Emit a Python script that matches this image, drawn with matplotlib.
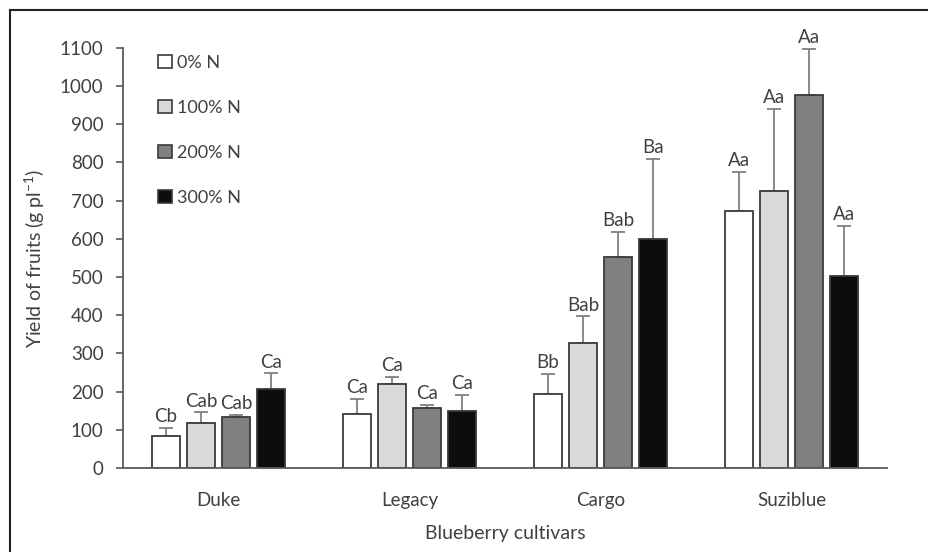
import numpy as np
import matplotlib.pyplot as plt
from matplotlib.patches import Patch
from matplotlib.lines import Line2D

plt.rcParams['font.family'] = ['Lato', 'DejaVu Sans']
plt.rcParams['mathtext.fontset'] = 'custom'
plt.rcParams['mathtext.rm'] = 'Lato'

cultivars = ['Duke', 'Legacy', 'Cargo', 'Suziblue']
doses = ['0% N', '100% N', '200% N', '300% N']

# mean yield (g per plant) and standard error, one list per N dose
yield_0 = [85, 141, 194, 674]
yield_100 = [118, 220, 327, 725]
yield_200 = [133, 158, 552, 977]
yield_300 = [208, 149, 600, 502]

err_0 = [20, 40, 53, 102]
err_100 = [28, 19, 70, 215]
err_200 = [6, 7, 66, 119]
err_300 = [40, 43, 210, 132]

lab_0 = ['Cb', 'Ca', 'Bb', 'Aa']
lab_100 = ['Cab', 'Ca', 'Bab', 'Aa']
lab_200 = ['Cab', 'Ca', 'Bab', 'Aa']
lab_300 = ['Ca', 'Ca', 'Ba', 'Aa']

means = [yield_0, yield_100, yield_200, yield_300]
errs = [err_0, err_100, err_200, err_300]
labels = [lab_0, lab_100, lab_200, lab_300]
colors = ['#ffffff', '#d9d9d9', '#808080', '#0d0d0d']

txt = '#404040'

fig = plt.figure(figsize=(9.29, 5.52), dpi=100)
ax = fig.add_axes([0.1324, 0.152, 0.8224, 0.7616])

x = np.arange(len(cultivars))
step = 0.183
width = 0.148

for i in range(4):
    xs = x + (i - 1.5) * step
    ax.bar(xs, means[i], width, color=colors[i], edgecolor='#3a3a3a', linewidth=1.3, zorder=2)
    ax.errorbar(xs, means[i], yerr=[np.zeros(4), errs[i]], fmt='none',
                ecolor='#808080', elinewidth=1.3, capsize=5, capthick=1.3, zorder=1)
    for xx, m, e, t in zip(xs, means[i], errs[i], labels[i]):
        ax.annotate(t, (xx, m + e), xytext=(0, 2), textcoords='offset points',
                    ha='center', va='bottom', fontsize=13.5, color=txt)

ax.set_xlim(-0.5, 3.5)
ax.set_ylim(0, 1100)
ax.set_yticks(np.arange(0, 1101, 100))
ax.set_xticks(x)
ax.set_xticklabels(cultivars)
ax.tick_params(axis='x', length=0, pad=17, labelsize=13.5, labelcolor=txt)
ax.tick_params(axis='y', direction='out', length=5, width=1.2, color='#595959',
               pad=9, labelsize=13.5, labelcolor=txt)
for s in ['top', 'right']:
    ax.spines[s].set_visible(False)
for s in ['left', 'bottom']:
    ax.spines[s].set_color('#595959')
    ax.spines[s].set_linewidth(1.3)

ax.set_xlabel('Blueberry cultivars', fontsize=14, color=txt, labelpad=12)
ax.set_ylabel(r'Yield of fruits (g pl$^{-1}$)', fontsize=14, color=txt, labelpad=9)

handles = [Patch(facecolor=c, edgecolor='#3a3a3a', linewidth=1.2) for c in colors]
fig.legend(handles, doses, loc='upper left', bbox_to_anchor=(0.153, 0.93),
           frameon=False, fontsize=13, handlelength=0.75, handleheight=0.75,
           handletextpad=0.3, labelspacing=1.6, labelcolor=txt)

# frame around the figure
fig.add_artist(Line2D([10 / 929, 10 / 929], [0, 1 - 10 / 552], transform=fig.transFigure,
                      color='#222222', linewidth=1.5))
fig.add_artist(Line2D([10 / 929, 1], [1 - 10 / 552, 1 - 10 / 552], transform=fig.transFigure,
                      color='#222222', linewidth=1.5))

fig.savefig('out.png', dpi=100)
